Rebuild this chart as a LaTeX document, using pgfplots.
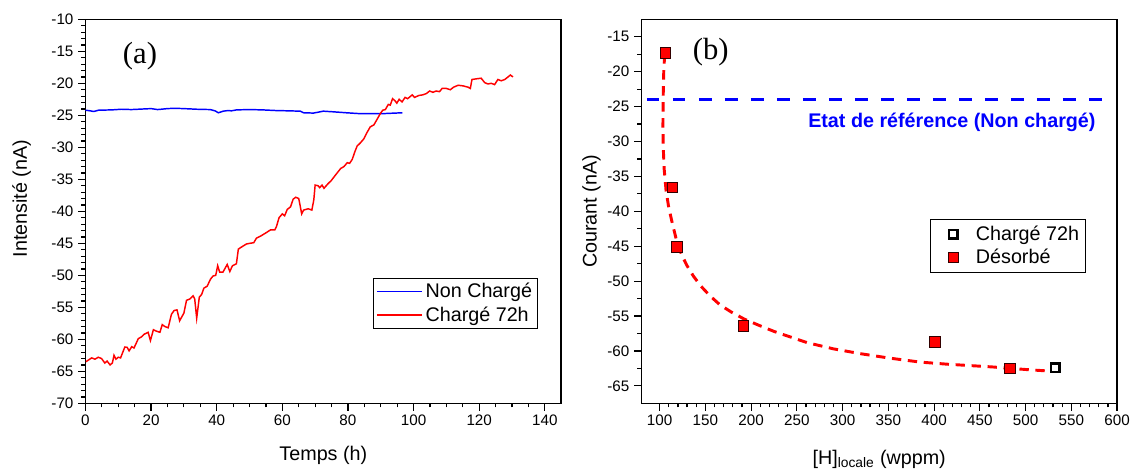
\documentclass[border=0pt]{standalone}
\usepackage{pgfplots}
\pgfplotsset{compat=1.18}
\usepackage{fontspec}
\setmainfont{Liberation Sans}
\newfontfamily\seriffont{Liberation Serif}
\begin{document}
\begin{tikzpicture}
\pgfplotsset{
  common/.style={
    scale only axis,
    width=356.8pt, height=288pt,
    axis line style={line width=1.1pt},
    every tick/.style={black, line width=0.9pt},
    tick align=outside,
    major tick length=5.5pt,
    minor tick length=3pt,
    xtick pos=bottom, ytick pos=left,
    /pgf/number format/assume math mode=true,
    /pgf/number format/set thousands separator={},
    tick label style={font=\fontsize{11.4pt}{13pt}\selectfont},
    label style={font=\fontsize{14.8pt}{17pt}\selectfont},
    legend style={font=\fontsize{14.8pt}{17pt}\selectfont, draw=black, line width=0.8pt, legend cell align=left},
  },
  markleg/.style={legend image code/.code={\path[draw=none, fill=none] (0pt,-3pt) rectangle (24pt,3pt); \draw[##1] plot coordinates {(14pt,0pt)};}},
}
\path[use as bounding box] (0pt,0pt) rectangle (850.5pt,352.5pt);
% ---------- (a) ----------
\begin{axis}[common,
  at={(64.1pt,50pt)}, anchor=south west,
  xmin=0, xmax=145, ymin=-70, ymax=-10,
  xtick={0,20,...,140}, minor x tick num=3,
  ytick={-70,-65,...,-10}, minor y tick num=4,
  xlabel={Temps (h)}, ylabel={Intensité (nA)},
  xlabel style={at={(axis description cs:0.5,-0.1476)}, anchor=base},
  ylabel style={at={(axis description cs:-0.123,0.533)}, anchor=base},
  legend style={at={(0.951,0.1936)}, anchor=south east, row sep=1pt, inner sep=2pt},
  legend image code/.code={\draw[#1, line width=1.1pt] (0pt,0pt) -- (34pt,0pt);},
]
\addplot[blue, line width=1.1pt] coordinates {
(0,-24.2) (1.5,-24.3) (2.5,-24.4) (4,-24.2) (8,-24.15) (11,-24.05) (14,-24.1) (18,-24.0)
(20,-23.95) (22,-24.1) (25,-23.95) (27,-23.9) (30,-23.95) (34,-24.05) (38,-24.1) (39.5,-24.3)
(40.5,-24.6) (42,-24.35) (43.5,-24.25) (44.5,-24.3) (46,-24.15) (50,-24.1) (54,-24.15)
(58,-24.25) (62,-24.3) (65.5,-24.35) (66.5,-24.6) (69.5,-24.65) (72.5,-24.35) (75.5,-24.45)
(79.5,-24.6) (84,-24.75) (90,-24.75) (96.6,-24.6)
};
\addlegendentry{Non Chargé}
\addplot[red, line width=1.1pt] coordinates {
(0.15,-63.5) (1.0,-63.2) (1.9,-62.9) (2.9,-63.1) (3.9,-62.8) (4.9,-63.0) (5.9,-63.7) (6.6,-63.4)
(7.5,-64.0) (8.2,-63.7) (8.7,-62.5) (9.3,-63.1) (10.0,-62.8) (10.7,-62.9) (12.0,-61.2) (12.7,-61.25)
(13.3,-61.8) (14.1,-61.15) (14.8,-61.35) (16.1,-59.9) (17.1,-59.6) (17.9,-59.2) (19.1,-58.9)
(19.8,-60.2) (20.7,-58.5) (21.5,-58.7) (22.7,-58.9) (23.4,-57.7) (24.2,-58.0) (25.2,-58.2)
(26.2,-56.1) (27.0,-55.5) (27.9,-55.4) (28.7,-57.1) (30.0,-55.9) (30.8,-53.9) (31.8,-53.7)
(32.8,-53.2) (33.3,-53.7) (33.9,-56.7) (34.7,-53.4) (35.4,-53.0) (36.1,-52.0) (37.1,-51.7)
(38.1,-50.6) (38.9,-50.1) (39.7,-50.0) (40.3,-48.5) (40.9,-49.5) (41.9,-49.5) (43.2,-48.3)
(44.0,-49.4) (44.8,-48.5) (46.0,-48.2) (46.6,-45.9) (48.1,-45.4) (49.1,-45.1) (50.1,-45.0)
(51.3,-44.9) (52.1,-44.2) (53.6,-43.8) (55.2,-43.3) (56.4,-42.9) (57.7,-42.9) (58.2,-42.4)
(59.0,-41.0) (60.0,-40.4) (60.7,-40.7) (61.5,-39.7) (62.5,-39.3) (63.3,-38.1) (64.1,-37.8)
(65.0,-38.0) (65.5,-39.3) (65.9,-40.4) (66.5,-39.8) (67.9,-39.6) (69.0,-39.8) (69.6,-38.2)
(70.0,-35.9) (70.9,-36.0) (71.4,-36.3) (72.1,-35.9) (72.7,-36.4) (73.9,-35.7) (74.9,-35.2)
(76.4,-34.2) (77.8,-33.3) (78.8,-33.0) (79.8,-32.4) (80.5,-32.5) (81.3,-31.9) (82.1,-30.7)
(82.8,-29.8) (83.8,-29.3) (84.8,-28.7) (85.8,-27.7) (86.8,-26.8) (87.9,-26.5) (88.9,-25.6)
(89.9,-24.7) (90.6,-24.2) (91.4,-24.1) (92.3,-23.3) (92.9,-23.4) (93.6,-22.4) (94.3,-22.7)
(94.9,-23.1) (95.6,-22.5) (96.5,-22.9) (97.4,-22.2) (98.2,-22.4) (99.6,-21.8) (100.3,-22.2)
(101.6,-21.9) (102.8,-21.8) (103.9,-21.6) (104.9,-21.2) (105.9,-21.4) (106.9,-21.2) (107.9,-21.3)
(108.7,-20.8) (110.0,-20.8) (111.2,-21.0) (112.2,-20.6) (113.6,-20.3) (115.1,-20.4) (116.6,-20.6)
(117.3,-20.8) (117.8,-19.4) (119.1,-19.3) (120.6,-19.2) (121.7,-19.9) (122.7,-20.1) (123.7,-20.0)
(124.7,-20.2) (125.7,-19.4) (126.7,-19.6) (127.8,-19.4) (128.8,-19.0) (129.5,-18.7) (130.3,-19.0)
};
\addlegendentry{Chargé 72h}
\node[font=\seriffont\fontsize{23pt}{25pt}\selectfont] at (rel axis cs:0.1146,0.905) {(a)};
\end{axis}
% ---------- (b) ----------
\begin{axis}[common,
  at={(481pt,50pt)}, anchor=south west,
  xmin=80, xmax=600, ymin=-67.5, ymax=-12.5,
  xtick={100,150,...,600}, minor x tick num=4,
  ytick={-65,-60,...,-15}, minor y tick num=1,
  xlabel={[H]\textsubscript{locale} (wppm)}, ylabel={Courant (nA)},
  xlabel style={at={(axis description cs:0.5,-0.158)}, anchor=base},
  ylabel style={at={(axis description cs:-0.094,0.5)}, anchor=base},
  legend style={at={(0.9352,0.3394)}, anchor=south east, row sep=1pt, inner sep=3pt},
]
\addplot[blue, line width=2.5pt, dash pattern=on 9.5pt off 10pt, forget plot] coordinates {(86,-24) (587,-24)};
\addplot[red, line width=2.2pt, dash pattern=on 7pt off 5pt, forget plot] coordinates {
(105.5,-17.5) (104.5,-20) (103.8,-24) (103.6,-28) (104,-31) (105,-34) (107,-37) (110,-39.5)
(113.5,-41.5) (118.5,-44.2) (124,-46.2) (130,-47.8) (137,-49.3) (145,-50.7) (155,-52.1)
(166,-53.4) (178,-54.4) (192,-55.4) (208,-56.3) (225,-57.2) (243,-58.0) (261,-58.8) (290,-59.7)
(320,-60.4) (350,-61.0) (385,-61.6) (415,-61.9) (440,-62.1) (465,-62.3) (484,-62.5) (505,-62.7) (528,-62.9)
};
\addplot[only marks, mark=square*, mark size=3.2pt, mark options={draw=black, fill=white, line width=2pt}, markleg] coordinates {(532.4,-62.4)};
\addlegendentry{\hspace{5pt}Chargé 72h}
\addplot[only marks, mark=square*, mark size=3.9pt, mark options={draw=black!80!red, fill=red, line width=0.6pt}, markleg] coordinates {
(106,-17.3) (114,-36.6) (118.8,-45.1) (191.7,-56.4) (401,-58.7) (483,-62.5)
};
\addlegendentry{\hspace{5pt}Désorbé}
\node[font=\seriffont\fontsize{23pt}{25pt}\selectfont] at (rel axis cs:0.1458,0.915) {(b)};
\node[anchor=east, text=blue, font=\bfseries\fontsize{14.8pt}{17pt}\selectfont] at (rel axis cs:0.9647,0.731) {Etat de référence (Non chargé)};
\end{axis}
\end{tikzpicture}
\end{document}
